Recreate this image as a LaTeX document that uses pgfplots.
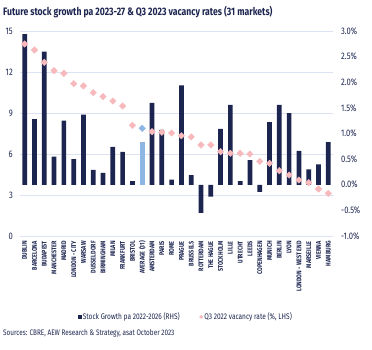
\documentclass[border=0pt]{standalone}
\usepackage{pgfplots}
\pgfplotsset{compat=1.18}
\usepackage{fontspec}
\setmainfont{Fira Sans}[FakeStretch=0.8]
\definecolor{navy}{HTML}{1C2550}
\definecolor{lblue}{HTML}{8DB6E2}
\definecolor{pinkd}{HTML}{F7B9BC}
\definecolor{gridc}{HTML}{DDE2F3}
\definecolor{txt}{HTML}{1C2550}
\begin{document}
\begin{tikzpicture}[x=1pt,y=1pt]
\path[use as bounding box] (0,0) rectangle (372,349);
\pgfplotsset{common/.style={scale only axis, width=313pt, height=205pt,
  at={(20pt,113pt)}, anchor=south west, xmin=-0.48, xmax=31.48,
  axis line style={draw=none}, major tick length=0pt,
  /pgf/number format/assume math mode=true,
  tick label style={font=\fontsize{9.5}{10}\selectfont, text=txt}}}
% grid + labels
\begin{axis}[common, ymin=0, ymax=15, ytick={0,3,6,9,12,15},
  ymajorgrids, grid style={gridc, line width=0.9pt},
  xtick={0,...,31},
  xticklabels={DUBLIN,BARCELONA,BUDAPEST,MANCHESTER,MADRID,LONDON - CITY,WARSAW,DUSSELDORF,BIRMINGHAM,MILAN,FRANKFURT,BRISTOL,AVERAGE (31),AMSTERDAM,PARIS,ROME,PRAGUE,BRUSSELS,ROTTERDAM,THE HAGUE,STOCKHOLM,LILLE,UTRECHT,LEEDS,COPENHAGEN,MUNICH,BERLIN,LYON,LONDON - WEST END,MARSEILLE,VIENNA,HAMBURG},
  xticklabel style={rotate=90, anchor=east, inner sep=1pt, font=\fontsize{6.8}{7}\selectfont\bfseries},
  xticklabel shift=4pt,
  yticklabel style={anchor=east, inner sep=0pt, xshift=-7pt}]
\end{axis}
% bars (RHS)
\begin{axis}[common, ymin=-1, ymax=3, ytick={-1,-0.5,0,0.5,1,1.5,2,2.5,3},
  yticklabel pos=right, xtick=\empty,
  yticklabel={\pgfmathprintnumber[fixed,fixed zerofill,precision=1]{\tick}\%},
  yticklabel style={anchor=west, inner sep=0pt, xshift=8pt}]
\addplot[ybar, bar width=4.7pt, bar shift=0pt, fill=navy, draw=none] coordinates {
(0,2.94) (1,1.28) (2,2.60) (3,0.55) (4,1.25) (5,0.50) (6,1.37) (7,0.29)
(8,0.23) (9,0.74) (10,0.64) (11,0.07) (13,1.60) (14,1.07) (15,0.10)
(16,1.94) (17,0.19) (18,-0.55) (19,-0.23) (20,1.09) (21,1.56) (22,0.07)
(23,0.48) (24,-0.14) (25,1.22) (26,1.56) (27,1.40) (28,0.66) (29,0.30)
(30,0.40) (31,0.83)};
\addplot[ybar, bar width=4.7pt, bar shift=0pt, fill=lblue, draw=none] coordinates {(12,0.84)};
\end{axis}
% diamonds (LHS) + legend
\begin{axis}[common, ymin=0, ymax=15, hide axis,
  legend style={at={(0.529,-0.395)}, anchor=center, draw=none, fill=none,
    font=\fontsize{8.2}{9}\selectfont, text=txt, legend columns=2,
    /tikz/every even column/.append style={column sep=18pt},
    nodes={inner xsep=1.5pt}},
  legend cell align=left]
\addlegendimage{legend image code/.code={\fill[navy] (-1.6pt,-1.6pt) rectangle (1.6pt,1.6pt);}}
\addlegendentry{Stock Growth pa 2022-2026 (RHS)}
\addlegendimage{legend image code/.code={\fill[pinkd] (0,-1.6pt) -- (1.6pt,0) -- (0,1.6pt) -- (-1.6pt,0) -- cycle;}}
\addlegendentry{Q3 2022 vacancy rate (\%, LHS)}
\addplot[forget plot, only marks, mark=square*, mark size=2.3pt, mark options={rotate=45, fill=pinkd, draw=pinkd}] coordinates {
(0,14.05) (1,13.61) (2,12.71) (3,12.10) (4,11.90) (5,11.15) (6,10.98) (7,10.49)
(8,10.20) (9,9.88) (10,9.51) (11,8.10) (13,7.63) (14,7.59) (15,7.54)
(16,7.34) (17,7.25) (18,6.66) (19,6.66) (20,6.17) (21,6.05) (22,6.05)
(23,6.00) (24,5.46) (25,5.32) (26,4.78) (27,4.46) (28,4.10) (29,3.90)
(30,3.44) (31,3.12)};
\addplot[forget plot, only marks, mark=square*, mark size=2.3pt, mark options={rotate=45, fill=lblue, draw=lblue}] coordinates {(12,7.88)};
\end{axis}
\node[anchor=west, inner sep=0pt, text=txt, font=\fontsize{10.8}{12}\selectfont\bfseries] at (3,337) {Future stock growth pa 2023-27 \& Q3 2023 vacancy rates (31 markets)};
\node[anchor=west, inner sep=0pt, text=txt, font=\fontsize{8}{9}\selectfont] at (3,16) {Sources: CBRE, AEW Research \& Strategy, asat October 2023};
\end{tikzpicture}
\end{document}
